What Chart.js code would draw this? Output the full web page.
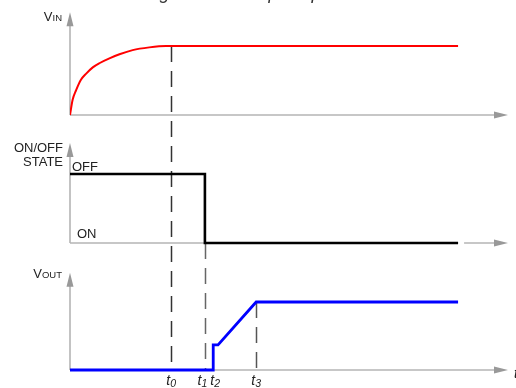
<!DOCTYPE html>
<html>
<head>
<meta charset="utf-8">
<script src="https://cdn.jsdelivr.net/npm/chart.js@4/dist/chart.umd.min.js"></script>
<style>
  html, body { margin: 0; padding: 0; background: #fff; overflow: hidden; }
  #wrap { position: relative; width: 516px; height: 388px; }
</style>
</head>
<body>
<div id="wrap"><canvas id="chart" width="516" height="388"></canvas></div>
<script>
// Time axis runs 0..10 (arbitrary units)
var timeMax = 10;
var timeEnd = 8.86;

// VIN rises to its final level by t0
var vinTime  = [0, 0.06, 0.14, 0.25, 0.37, 0.52, 0.67, 0.90, 1.13, 1.43, 1.81, 2.19, 2.31, timeEnd];
var vinLevel = [0, 0.22, 0.36, 0.51, 0.60, 0.69, 0.75, 0.82, 0.88, 0.94, 0.98, 1.0, 1.0, 1.0];

// ON/OFF state: 1 = OFF, 0 = ON
var stateTime  = [0, 3.08, 3.08, timeEnd];
var stateLevel = [1, 1, 0, 0];

// VOUT: small step at t2, ramps up to t3
var voutTime  = [0, 3.27, 3.27, 3.38, 4.25, timeEnd];
var voutLevel = [0, 0, 0.37, 0.37, 1.0, 1.0];

// time markers
var markNames = ['0', '1', '2', '3'];
var markTimes = [2.31, 3.08, 3.27, 4.25];
var markShift = [0, -2.5, 2, 0];

// panel layout (pixels): baseline, px per unit, axis top value
var panelIds   = ['yIn', 'yState', 'yOut'];
var panelBase  = [115, 243, 370];
var panelUnit  = [69, 69, 68];
var panelTop   = [1.49, 1.45, 1.43];
var H = 388;

function pts(t, v) {
    return t.map(function (x, i) { return { x: x, y: v[i] }; });
}

function yScale(i) {
    return {
        type: 'linear',
        display: false,
        min: -(H - panelBase[i]) / panelUnit[i],
        max: panelBase[i] / panelUnit[i]
    };
}

// Draws axes with arrows, dashed time guides and all labels
var overlay = {
    id: 'overlay',
    beforeDatasetsDraw: function (chart) {
        var ctx = chart.ctx;
        var xs = chart.scales.x;
        var x0 = xs.getPixelForValue(0);
        var x1 = xs.getPixelForValue(timeMax);
        ctx.save();
        panelIds.forEach(function (id, i) {
            var ys = chart.scales[id];
            var yb = ys.getPixelForValue(0);
            var yt = ys.getPixelForValue(panelTop[i]);
            ctx.strokeStyle = '#b5b5b5';
            ctx.lineWidth = 1.6;
            ctx.beginPath();
            ctx.moveTo(x0, yb);
            ctx.lineTo(x0, yt + 12);
            if (id === 'yState') {
                var xe = xs.getPixelForValue(timeEnd);
                ctx.moveTo(x0, yb);
                ctx.lineTo(xe, yb);
                ctx.moveTo(xe + 6, yb);
                ctx.lineTo(x1 - 12, yb);
            } else {
                ctx.moveTo(x0, yb);
                ctx.lineTo(x1 - 12, yb);
            }
            ctx.stroke();
            ctx.fillStyle = '#999';
            ctx.beginPath();
            ctx.moveTo(x0, yt);
            ctx.lineTo(x0 - 3.5, yt + 14);
            ctx.lineTo(x0 + 3.5, yt + 14);
            ctx.closePath();
            ctx.fill();
            ctx.beginPath();
            ctx.moveTo(x1, yb);
            ctx.lineTo(x1 - 14, yb - 3.5);
            ctx.lineTo(x1 - 14, yb + 3.5);
            ctx.closePath();
            ctx.fill();
        });

        // dashed guides
        var yIn = chart.scales.yIn, ySt = chart.scales.yState, yOut = chart.scales.yOut;
        var guides = [
            { t: markTimes[0], from: yIn.getPixelForValue(1), color: '#333' },
            { t: markTimes[1], from: ySt.getPixelForValue(0), color: '#666' },
            { t: markTimes[3], from: yOut.getPixelForValue(1), color: '#555' }
        ];
        ctx.lineWidth = 1.5;
        ctx.setLineDash([16, 9]);
        guides.forEach(function (g) {
            var gx = Math.round(xs.getPixelForValue(g.t)) + 0.5;
            ctx.strokeStyle = g.color;
            ctx.beginPath();
            ctx.moveTo(gx, g.from);
            ctx.lineTo(gx, yOut.getPixelForValue(0));
            ctx.stroke();
        });
        ctx.restore();
    },
    afterDatasetsDraw: function (chart) {
        var ctx = chart.ctx;
        var xs = chart.scales.x;
        var font = '"Liberation Sans", Arial, sans-serif';
        ctx.save();
        ctx.fillStyle = '#222';
        ctx.textBaseline = 'alphabetic';

        // V with small-caps subscript, right aligned
        function vLabel(sub, right, base) {
            ctx.font = '13px ' + font;
            var w1 = ctx.measureText('V').width;
            ctx.font = '9.5px ' + font;
            var w2 = ctx.measureText(sub).width;
            ctx.textAlign = 'left';
            ctx.font = '13px ' + font;
            ctx.fillText('V', right - w1 - w2, base);
            ctx.font = '9.5px ' + font;
            ctx.fillText(sub, right - w2, base);
        }
        vLabel('IN', 62, 20.5);
        vLabel('OUT', 62, 277.5);

        ctx.font = '13px ' + font;
        ctx.textAlign = 'right';
        ctx.fillText('ON/OFF', 63, 152);
        ctx.fillText('STATE', 63, 166);
        ctx.textAlign = 'left';
        ctx.fillText('OFF', 72, 171);
        ctx.fillText('ON', 77, 238);

        // time labels
        function tLabel(n, cx, base) {
            ctx.font = 'italic 14px ' + font;
            var w1 = ctx.measureText('t').width;
            ctx.font = 'italic 10.5px ' + font;
            var w2 = ctx.measureText(n).width;
            var left = cx - (w1 + w2) / 2;
            ctx.textAlign = 'left';
            ctx.font = 'italic 14px ' + font;
            ctx.fillText('t', left, base);
            ctx.font = 'italic 10.5px ' + font;
            ctx.fillText(n, left + w1, base + 1.5);
        }
        markNames.forEach(function (n, i) {
            tLabel(n, xs.getPixelForValue(markTimes[i]) + markShift[i], 385);
        });
        ctx.font = 'italic 14px ' + font;
        ctx.textAlign = 'left';
        ctx.fillText('t', 514, 378);

        // figure caption, cut off by the top edge
        ctx.font = 'italic 18px ' + font;
        ctx.fillStyle = '#333';
        ctx.textAlign = 'center';
        ctx.fillText('Figure 4. Startup Sequence 2', 262, -1);
        ctx.restore();
    }
};

new Chart(document.getElementById('chart'), {
    type: 'line',
    data: {
        datasets: [{
            label: 'VIN',
            data: pts(vinTime, vinLevel),
            yAxisID: 'yIn',
            borderColor: '#ff0000',
            borderWidth: 2,
            cubicInterpolationMode: 'monotone'
        }, {
            label: 'ON/OFF STATE',
            data: pts(stateTime, stateLevel),
            yAxisID: 'yState',
            borderColor: '#000000',
            borderWidth: 2.6,
            tension: 0
        }, {
            label: 'VOUT',
            data: pts(voutTime, voutLevel),
            yAxisID: 'yOut',
            borderColor: '#0000ff',
            borderWidth: 2.8,
            tension: 0
        }]
    },
    options: {
        responsive: false,
        animation: false,
        devicePixelRatio: 1,
        layout: { padding: { left: 70, right: 8, top: 0, bottom: 0 } },
        elements: {
            point: { radius: 0, hoverRadius: 0 },
            line: { fill: false, borderJoinStyle: 'miter', borderCapStyle: 'butt' }
        },
        scales: {
            x: { type: 'linear', display: false, min: 0, max: timeMax },
            yIn: yScale(0),
            yState: yScale(1),
            yOut: yScale(2)
        },
        plugins: {
            legend: { display: false },
            tooltip: { enabled: false }
        }
    },
    plugins: [overlay]
});
</script>
</body>
</html>
